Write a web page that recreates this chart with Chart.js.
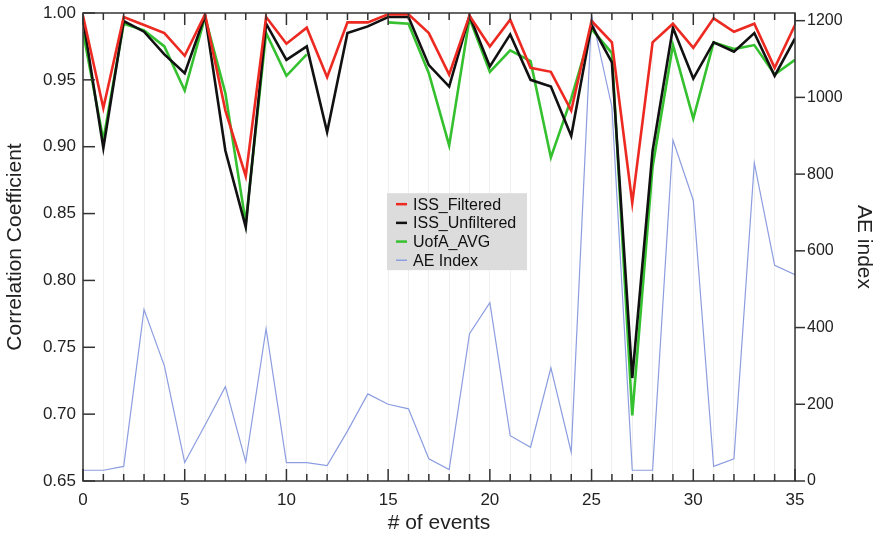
<!DOCTYPE html>
<html>
<head>
<meta charset="utf-8">
<script src="https://cdn.jsdelivr.net/npm/chart.js@4/dist/chart.umd.min.js"></script>
<style>
    html, body { margin: 0; padding: 0; background: #fff; }
    #wrap { width: 879px; height: 539px; position: relative; }
</style>
</head>
<body>
<div id="wrap"><canvas id="corrChart"></canvas></div>
<script>
// Event numbers along the x axis
const events = [0, 1, 2, 3, 4, 5, 6, 7, 8, 9, 10, 11, 12, 13, 14, 15, 16, 17,
                18, 19, 20, 21, 22, 23, 24, 25, 26, 27, 28, 29, 30, 31, 32, 33, 34, 35];

// Correlation coefficients (left axis)
const issFiltered = [0.998, 0.929, 0.997, 0.991, 0.985, 0.968, 0.999, 0.927, 0.878, 0.997,
                     0.977, 0.989, 0.952, 0.993, 0.993, 0.999, 0.999, 0.985, 0.954, 0.998,
                     0.975, 0.995, 0.959, 0.956, 0.927, 0.994, 0.978, 0.858, 0.978, 0.992,
                     0.974, 0.996, 0.986, 0.992, 0.959, 0.991];
const issUnfiltered = [0.996, 0.899, 0.994, 0.986, 0.969, 0.955, 0.998, 0.897, 0.840, 0.992,
                       0.965, 0.975, 0.911, 0.985, 0.990, 0.997, 0.997, 0.961, 0.945, 0.998,
                       0.960, 0.984, 0.950, 0.945, 0.908, 0.991, 0.963, 0.727, 0.897, 0.989,
                       0.951, 0.978, 0.971, 0.985, 0.953, 0.981];
const uofaAvg = [0.986, 0.905, 0.992, 0.987, 0.975, 0.942, 0.997, 0.940, 0.843, 0.985,
                 0.953, 0.969, null, null, null, 0.993, 0.992, 0.955, 0.901, 0.996,
                 0.956, 0.972, 0.964, 0.892, 0.936, 0.988, 0.970, 0.699, 0.885, 0.976,
                 0.921, 0.978, 0.973, 0.976, 0.954, 0.965];

// AE index (right axis)
const aeIndex = [28, 28, 38, 447, 300, 48, 146, 246, 50, 397,
                 48, 48, 40, 130, 227, 200, 188, 58, 30, 384,
                 465, 118, 88, 295, 75, 1215, 975, 28, 28, 889,
                 732, 38, 58, 829, 562, 538];

// Tick labels
const corrTicks = [0.65, 0.70, 0.75, 0.80, 0.85, 0.90, 0.95, 1.00];
const aeTicks = [0, 200, 400, 600, 800, 1000, 1200];

const fontFamily = "'Liberation Sans', Arial, Helvetica, sans-serif";
const inkColor = '#222';

function pairs(values) {
    return events.map((e, i) => ({ x: e, y: values[i] }));
}

// Keep the plot box where the reference has it
function noOverflow(scale) {
    scale.paddingTop = 0;
    scale.paddingBottom = 0;
    scale.paddingLeft = 0;
    scale.paddingRight = 0;
}

// Frame, tick marks and the boxed legend inside the plot
const framePlugin = {
    id: 'frame',
    afterDatasetsDraw(chart) {
        const ctx = chart.ctx;
        const area = chart.chartArea;
        const xs = chart.scales.x;
        const ys = chart.scales.y;
        const ys1 = chart.scales.y1;

        ctx.save();
        ctx.strokeStyle = '#333';
        ctx.lineWidth = 1.5;

        // bottom and top ticks
        xs.ticks.forEach(t => {
            const px = xs.getPixelForValue(t.value);
            const len = t.value % 5 === 0 ? 12 : 7;
            ctx.beginPath();
            ctx.moveTo(px, area.bottom);
            ctx.lineTo(px, area.bottom - len);
            ctx.moveTo(px, area.top);
            ctx.lineTo(px, area.top + len);
            ctx.stroke();
        });

        // left ticks point inward
        ys.ticks.forEach(t => {
            const py = ys.getPixelForValue(t.value);
            ctx.beginPath();
            ctx.moveTo(area.left, py);
            ctx.lineTo(area.left + 12, py);
            ctx.stroke();
        });

        // right ticks point outward
        ys1.ticks.forEach(t => {
            const py = ys1.getPixelForValue(t.value);
            ctx.beginPath();
            ctx.moveTo(area.right, py);
            ctx.lineTo(area.right + 10, py);
            ctx.stroke();
        });

        ctx.strokeRect(area.left, area.top, area.right - area.left, area.bottom - area.top);

        // legend box
        const w = area.right - area.left;
        const h = area.bottom - area.top;
        const bx = area.left + w * 0.427;
        const by = area.top + h * 0.385;
        const rowH = 18.7;
        const sets = chart.data.datasets;
        ctx.fillStyle = '#dcdcdc';
        ctx.fillRect(bx, by, 140, 77);
        ctx.font = '16px ' + fontFamily;
        ctx.textBaseline = 'middle';
        sets.forEach((ds, i) => {
            const cy = by + 11 + i * rowH;
            ctx.strokeStyle = ds.borderColor;
            ctx.lineWidth = ds.borderWidth > 1.5 ? 2.5 : 1.5;
            ctx.beginPath();
            ctx.moveTo(bx + 9, cy);
            ctx.lineTo(bx + 20, cy);
            ctx.stroke();
            ctx.fillStyle = '#111';
            ctx.fillText(ds.label, bx + 26, cy + 1);
        });
        ctx.restore();
    }
};

const ctx = document.getElementById('corrChart').getContext('2d');
const chart = new Chart(ctx, {
    type: 'line',
    data: {
        datasets: [
            {
                label: 'ISS_Filtered',
                data: pairs(issFiltered),
                borderColor: '#ec2a21',
                borderWidth: 2.6,
                yAxisID: 'y'
            },
            {
                label: 'ISS_Unfiltered',
                data: pairs(issUnfiltered),
                borderColor: '#111111',
                borderWidth: 2.6,
                yAxisID: 'y'
            },
            {
                label: 'UofA_AVG',
                data: pairs(uofaAvg),
                borderColor: '#35c02f',
                borderWidth: 2.6,
                yAxisID: 'y'
            },
            {
                label: 'AE Index',
                data: pairs(aeIndex),
                borderColor: '#8c9de0',
                borderWidth: 1.2,
                yAxisID: 'y1'
            }
        ]
    },
    options: {
        responsive: true,
        maintainAspectRatio: false,
        animation: false,
        layout: { padding: { top: 13, left: 0, right: 0, bottom: 0 } },
        elements: {
            point: { radius: 0 },
            line: { tension: 0, fill: false, borderJoinStyle: 'miter' }
        },
        plugins: {
            legend: { display: false },
            tooltip: { enabled: false }
        },
        scales: {
            x: {
                type: 'linear',
                min: 0,
                max: 35,
                afterFit(scale) { scale.height = 58; noOverflow(scale); },
                grid: { color: 'rgba(0,0,0,0.06)', drawTicks: false },
                border: { display: false },
                ticks: {
                    stepSize: 1,
                    autoSkip: false,
                    maxRotation: 0,
                    padding: 9,
                    color: inkColor,
                    font: { family: fontFamily, size: 17 },
                    callback: v => (v % 5 === 0 ? String(v) : '')
                },
                title: {
                    display: true,
                    text: '# of events',
                    color: inkColor,
                    font: { family: fontFamily, size: 21 },
                    padding: { top: 0, bottom: 3 }
                }
            },
            y: {
                position: 'left',
                min: 0.65,
                max: 1.0,
                afterBuildTicks(scale) { scale.ticks = corrTicks.map(v => ({ value: v })); },
                afterFit(scale) { scale.width = 83; noOverflow(scale); },
                grid: { display: false, drawTicks: false },
                border: { display: false },
                ticks: {
                    padding: 7,
                    color: inkColor,
                    font: { family: fontFamily, size: 17 },
                    callback: v => v.toFixed(2)
                },
                title: {
                    display: true,
                    text: 'Correlation Coefficient',
                    color: inkColor,
                    font: { family: fontFamily, size: 21 },
                    padding: { top: 3, bottom: 0 }
                }
            },
            y1: {
                position: 'right',
                min: 0,
                max: 1220,
                afterBuildTicks(scale) { scale.ticks = aeTicks.map(v => ({ value: v })); },
                afterFit(scale) { scale.width = 84; noOverflow(scale); },
                grid: { display: false, drawTicks: false },
                border: { display: false },
                ticks: {
                    padding: 12,
                    color: inkColor,
                    font: { family: fontFamily, size: 16 },
                    callback: v => String(v)
                },
                title: {
                    display: true,
                    text: 'AE index',
                    color: inkColor,
                    font: { family: fontFamily, size: 21 },
                    padding: { top: 3, bottom: 0 }
                }
            }
        }
    },
    plugins: [framePlugin]
});
</script>
</body>
</html>
